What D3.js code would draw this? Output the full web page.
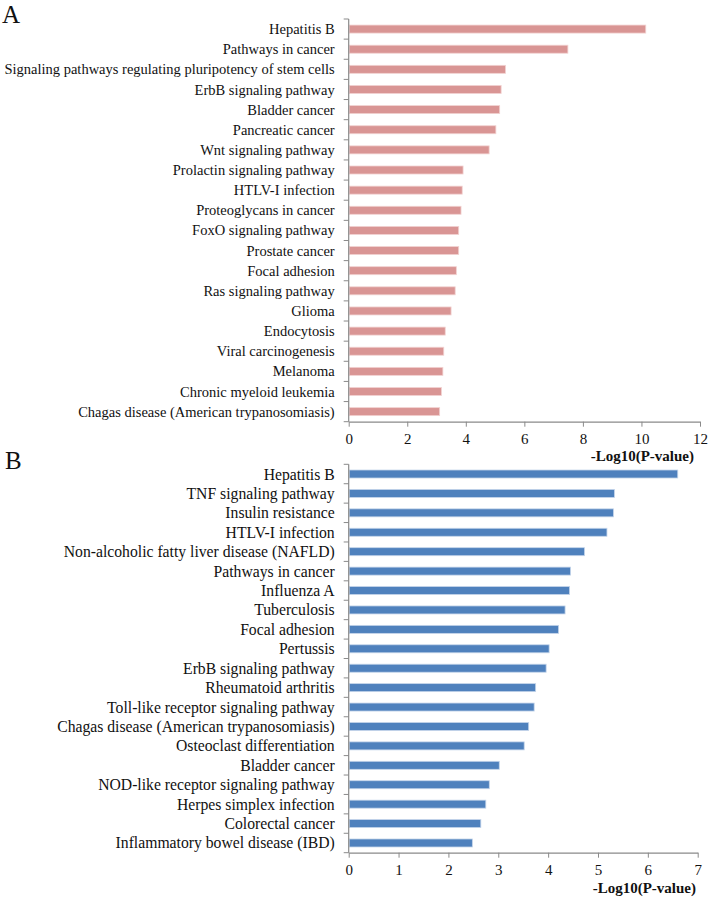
<!DOCTYPE html>
<html><head><meta charset="utf-8">
<script src="https://cdn.jsdelivr.net/npm/d3@7"></script>
<style>body{margin:0;background:#fff}svg{display:block}</style>
</head><body>
<svg id="chart" width="709" height="898"></svg>
<script>
const categoriesA = ["Hepatitis B","Pathways in cancer","Signaling pathways regulating pluripotency of stem cells","ErbB signaling pathway","Bladder cancer","Pancreatic cancer","Wnt signaling pathway","Prolactin signaling pathway","HTLV-I infection","Proteoglycans in cancer","FoxO signaling pathway","Prostate cancer","Focal adhesion","Ras signaling pathway","Glioma","Endocytosis","Viral carcinogenesis","Melanoma","Chronic myeloid leukemia","Chagas disease (American trypanosomiasis)"];
const valuesA = [10.13,7.47,5.34,5.19,5.14,5.01,4.78,3.89,3.86,3.82,3.74,3.74,3.66,3.62,3.48,3.28,3.23,3.20,3.15,3.09];
const ticksA = [0,2,4,6,8,10,12];

const categoriesB = ["Hepatitis B","TNF signaling pathway","Insulin resistance","HTLV-I infection","Non-alcoholic fatty liver disease (NAFLD)","Pathways in cancer","Influenza A","Tuberculosis","Focal adhesion","Pertussis","ErbB signaling pathway","Rheumatoid arthritis","Toll-like receptor signaling pathway","Chagas disease (American trypanosomiasis)","Osteoclast differentiation","Bladder cancer","NOD-like receptor signaling pathway","Herpes simplex infection","Colorectal cancer","Inflammatory bowel disease (IBD)"];
const valuesB = [6.59,5.32,5.30,5.17,4.72,4.44,4.42,4.33,4.20,4.01,3.95,3.74,3.71,3.60,3.51,3.01,2.81,2.74,2.64,2.47];
const ticksB = [0,1,2,3,4,5,6,7];

const axisTitle = "-Log10(P-value)";
const svg = d3.select("#chart");
const FONT = "'Liberation Serif','Times New Roman',serif";
const AXC = "#8a8a8a";

function panel(o){
  const g = svg.append("g");
  const x = d3.scaleLinear().domain([0, o.ticks[o.ticks.length-1]]).range([o.x0, o.x1]);
  const step = (o.y1 - o.y0) / o.cats.length;
  // bars
  g.selectAll("rect.bar").data(o.vals).enter().append("rect")
    .attr("x", x(0)+0.5).attr("y", (d,i)=> o.y0 + step*i + (step-o.bh)/2)
    .attr("width", d=> x(d)-x(0)).attr("height", o.bh)
    .attr("fill", o.color).attr("stroke", o.edge).attr("stroke-width", 0.8);
  // y axis line + ticks at band boundaries
  g.append("line").attr("x1", x(0)).attr("x2", x(0)).attr("y1", o.y0).attr("y2", o.y1)
    .attr("stroke", AXC).attr("stroke-width", 1.2);
  g.selectAll("line.yt").data(d3.range(o.cats.length+1)).enter().append("line")
    .attr("x1", x(0)-5).attr("x2", x(0)).attr("y1", i=>o.y0+step*i).attr("y2", i=>o.y0+step*i)
    .attr("stroke", AXC).attr("stroke-width", 1);
  // category labels
  g.selectAll("text.cat").data(o.cats).enter().append("text")
    .attr("x", x(0)-14).attr("y", (d,i)=> o.y0 + step*i + step/2)
    .attr("dy", "0.35em").attr("text-anchor", "end")
    .attr("font-family", FONT).attr("font-size", o.fs).attr("fill", "#111").text(d=>d);
  // x axis
  const ax = g.append("g").attr("transform", `translate(0,${o.y1})`)
    .call(d3.axisBottom(x).tickValues(o.ticks).tickFormat(d3.format("d")).tickSize(5).tickSizeOuter(0));
  ax.select(".domain").attr("stroke", AXC).attr("stroke-width", 1.2);
  ax.selectAll(".tick line").attr("stroke", AXC);
  ax.selectAll(".tick text").attr("font-family", FONT).attr("font-size", 15).attr("fill", "#111").attr("dy", "0.95em");
  g.append("text").attr("x", o.titleX).attr("y", o.titleY).attr("text-anchor", "end")
    .attr("font-family", FONT).attr("font-size", 15).attr("font-weight", "bold").attr("fill", "#111").text(axisTitle);
  g.append("text").attr("x", o.lx).attr("y", o.ly).attr("font-family", FONT).attr("font-size", 25).attr("fill", "#111").text(o.letter);
}

panel({cats:categoriesA, vals:valuesA, ticks:ticksA, x0:348.7, x1:700, y0:19, y1:421.7, bh:8,
  color:"#D99594", edge:"#f2d2d1", fs:14.5, titleX:694, titleY:461, lx:2, ly:23, letter:"A"});
panel({cats:categoriesB, vals:valuesB, ticks:ticksB, x0:348.7, x1:697.7, y0:464.3, y1:852.7, bh:8,
  color:"#4F81BD", edge:"#c5d5ea", fs:15.7, titleX:696, titleY:893, lx:5, ly:469, letter:"B"});
</script>
</body></html>
